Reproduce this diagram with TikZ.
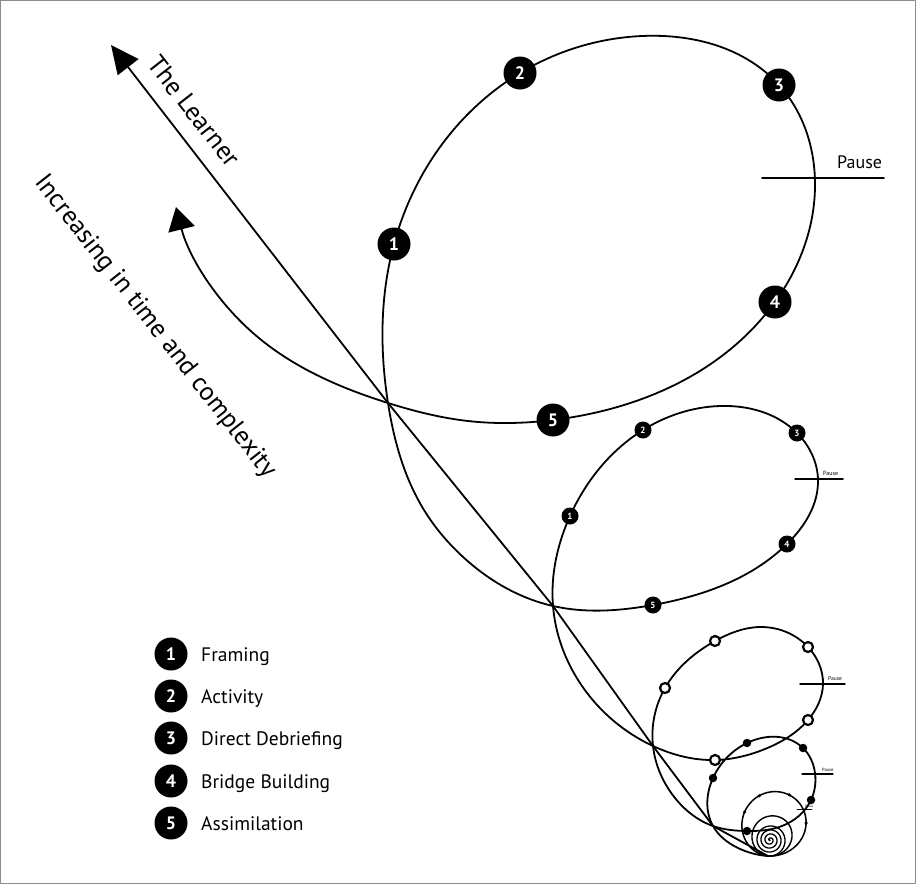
\documentclass[tikz,border=0pt]{standalone}
\usepackage{fontspec}
\setmainfont{PT Sans}
\usetikzlibrary{arrows.meta,hobby}
\begin{document}
\begin{tikzpicture}[x=1pt,y=-1pt,line cap=round,line join=round,
  curve/.style={line width=1.8pt},
  bigm/.style={circle,fill=black,minimum size=33pt,inner sep=0pt,text=white,font=\bfseries\fontsize{18}{18}\selectfont},
  midm/.style={circle,fill=black,minimum size=17pt,inner sep=0pt,text=white,font=\bfseries\fontsize{9}{9}\selectfont},
  ringm/.style={circle,draw=black,line width=2.2pt,fill=white,minimum size=10pt,inner sep=0pt},
  dotm/.style={circle,fill=black,minimum size=8.5pt,inner sep=0pt},
  tinym/.style={circle,fill=black,minimum size=3.5pt,inner sep=0pt},
  legtext/.style={anchor=base west,inner sep=0pt,font=\fontsize{19.5}{19.5}\selectfont},
  axlabel/.style={rotate=-52,inner sep=0pt,font=\fontsize{26}{26}\selectfont},
  pausetick/.style={line width=1.8pt},
  pauselabel/.style={inner sep=0pt,anchor=base west}
]
\useasboundingbox (0,0) rectangle (916,884);
\draw[black!45,line width=1pt] (0.5,0.5) rectangle (915.5,883.5);

% crossing points
\coordinate (X1) at (388,403);
\coordinate (X2) at (553,606);
\coordinate (X3) at (653,746);
\coordinate (X4) at (713,826);
\coordinate (B)  at (768,856);
\coordinate (Tip) at (111,45);
\coordinate (Tip2) at (176,207);

% marker positions
\coordinate (p11) at (394,244); \coordinate (p12) at (520,73);
\coordinate (p13) at (779,85);  \coordinate (p14) at (775,302);
\coordinate (p15) at (553,420);
\coordinate (p21) at (570,516); \coordinate (p22) at (643,430);
\coordinate (p23) at (797,433); \coordinate (p24) at (787,544);
\coordinate (p25) at (653,605);
\coordinate (p31) at (665,688); \coordinate (p32) at (715,641);
\coordinate (p33) at (808,647); \coordinate (p34) at (808,720);
\coordinate (p35) at (715,760);
\coordinate (p41) at (713,778); \coordinate (p42) at (747,743);
\coordinate (p43) at (803,748); \coordinate (p44) at (811,800);
\coordinate (p45) at (747,831);

% inner spiral and the two smallest loops
\draw[line width=1.3pt] plot[domain=0:1440,samples=420]
  ({770-(\x/90)*sin(\x)},{840+(\x/90)*cos(\x)});
\draw[line width=1.4pt] plot[domain=0:360,samples=120]
  ({770-(16+\x/45)*sin(\x)},{856-(16+\x/45)+(16+\x/45)*cos(\x)});
\draw[line width=1.5pt] plot[domain=0:360,samples=140]
  ({770-(24+\x/22.5)*sin(\x)},{856-(24+\x/22.5)+(24+\x/22.5)*cos(\x)});

% the main looping path
\draw[curve,use Hobby shortcut,-{Triangle[length=23pt,width=27pt]}]
  (B) .. (738,848) .. (X4) .. (p41) .. (p42) .. (p43) .. (815,773) .. (p44)
  .. (782,826) .. (p45) .. (X4)
  .. (675,798) .. (X3) .. (p31) .. (p32) .. (760,627) .. (p33) .. (823,684)
  .. (p34) .. (765,749) .. (p35) .. (X3)
  .. (582,686) .. (X2) .. (p21) .. (p22) .. (720,406) .. (p23) .. (818,480)
  .. (p24) .. (p25) .. (X2)
  .. (462,556) .. (424,510) .. (X1) .. (p11) .. (p12) .. (642,36) .. (p13) .. (815,182)
  .. (p14) .. (p15) .. (468,421) .. (X1)
  .. (253,333) .. (Tip2);

% the straight line
\draw[curve,{Triangle[length=28pt,width=26pt]}-] (Tip) -- (X1) -- (X2) -- (X3) -- (X4) -- (B);

% pause ticks
\draw[pausetick] (762,178) -- (884,178);
\node[pauselabel,font=\fontsize{18}{18}\selectfont] (pz1) at (837,168) {Pause};
\draw[line width=1.5pt] (795,479) -- (843,479);
\node[pauselabel,font=\fontsize{6}{6}\selectfont] (pz2) at (823,475) {Pause};
\draw[line width=1.4pt] (800,684) -- (845,684);
\node[pauselabel,font=\fontsize{5.5}{5.5}\selectfont] (pz3) at (828,680) {Pause};
\draw[line width=1.2pt] (802,774) -- (833,774);
\node[pauselabel,font=\fontsize{4.5}{4.5}\selectfont] (pz4) at (822,771) {Pause};
\draw[line width=0.9pt] (797,809) -- (812,809);
\node[pauselabel,font=\fontsize{3.2}{3.2}\selectfont] (pz5) at (805,807) {Pause};

% markers, loop 1
\node[bigm] (m11) at (p11) {1};
\node[bigm] (m12) at (p12) {2};
\node[bigm] (m13) at (p13) {3};
\node[bigm] (m14) at (p14) {4};
\node[bigm] (m15) at (p15) {5};
% loop 2
\node[midm] (m21) at (p21) {1};
\node[midm] (m22) at (p22) {2};
\node[midm] (m23) at (p23) {3};
\node[midm] (m24) at (p24) {4};
\node[midm] (m25) at (p25) {5};
% loop 3
\node[ringm] (m31) at (p31) {};
\node[ringm] (m32) at (p32) {};
\node[ringm] (m33) at (p33) {};
\node[ringm] (m34) at (p34) {};
\node[ringm] (m35) at (p35) {};
% loop 4
\node[dotm] (m41) at (p41) {};
\node[dotm] (m42) at (p42) {};
\node[dotm] (m43) at (p43) {};
\node[dotm] (m44) at (p44) {};
\node[dotm] (m45) at (p45) {};
% loop 5
\node[tinym] (m51) at (744.6,812.0) {};
\node[tinym] (m52) at (759.4,795.7) {};
\node[tinym] (m53) at (789.3,794.9) {};
\node[tinym] (m54) at (806.1,822.9) {};

% axis labels
\node[axlabel] (learner) at (194,111) {The Learner};
\node[axlabel] (incr) at (155,327) {Increasing in time and complexity};

% legend
\node[bigm] (l1) at (171,654) {1};
\node[bigm] (l2) at (171,696) {2};
\node[bigm] (l3) at (171,738) {3};
\node[bigm] (l4) at (171,781) {4};
\node[bigm] (l5) at (171,823) {5};
\node[legtext] (t1) at (201,661) {Framing};
\node[legtext] (t2) at (201,703) {Activity};
\node[legtext] (t3) at (201,745) {Direct Debriefing};
\node[legtext] (t4) at (201,788) {Bridge Building};
\node[legtext] (t5) at (201,830) {Assimilation};
\end{tikzpicture}
\end{document}
